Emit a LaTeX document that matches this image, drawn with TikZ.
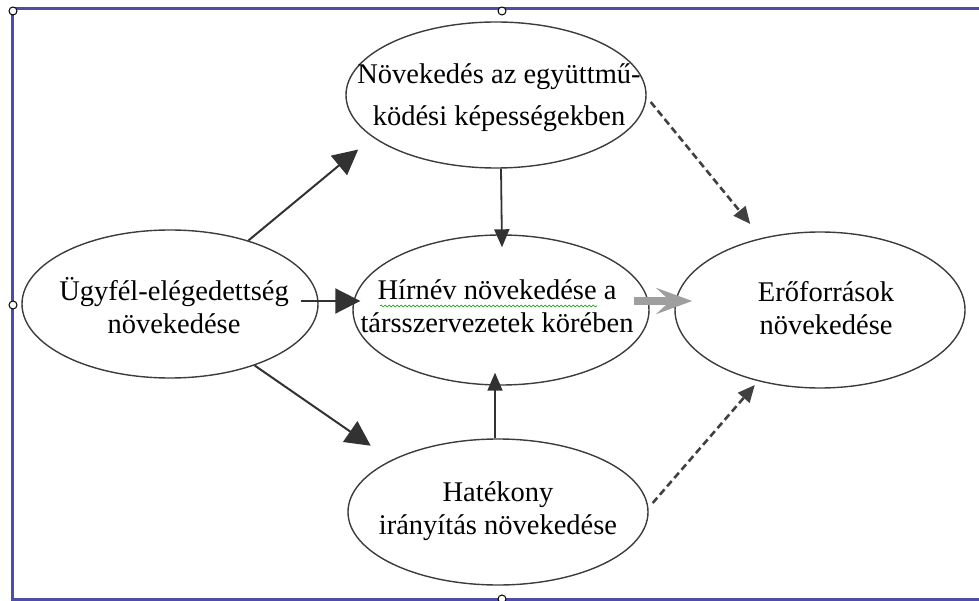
\documentclass[tikz,border=0pt]{standalone}
\usepackage{fontspec}
\setmainfont{Liberation Serif}
\usetikzlibrary{shapes.geometric,arrows.meta,decorations.pathmorphing}
\definecolor{framecol}{RGB}{78,78,168}
\definecolor{ringcol}{RGB}{60,60,60}
\definecolor{linkcol}{RGB}{50,50,50}

\begin{document}
\begin{tikzpicture}[x=1pt,y=-1pt,
  goal/.style={draw=ringcol,line width=1.4pt,ellipse,inner sep=0pt},
  txt/.style={align=center,inner sep=0pt,font=\fontsize{28.5}{33}\selectfont},
  big/.style={draw=linkcol,line width=2pt,-{Triangle[length=25pt,width=25pt]}},
  small/.style={draw=linkcol,line width=1.8pt,-{Triangle[length=18pt,width=15pt]}},
  hint/.style={draw=black!75,line width=2.6pt,dash pattern=on 7pt off 4pt,-{Triangle[length=17pt,width=15pt]}},
  handle/.style={draw=black,fill=white,circle,inner sep=0pt,minimum size=8pt,line width=1pt}]
\useasboundingbox (0,0) rectangle (979,601);
\draw[framecol,line width=3pt] (995,9) -- (12.5,9) -- (12.5,599.5) -- (995,599.5);

\node[goal,minimum width=296pt,minimum height=148pt] (L) at (170,304) {};
\node[goal,minimum width=300pt,minimum height=146pt] (T) at (496,95) {};
\node[goal,minimum width=296pt,minimum height=150pt] (M) at (501,310) {};
\node[goal,minimum width=300pt,minimum height=146pt] (B) at (498,512) {};
\node[goal,minimum width=290pt,minimum height=156pt] (R) at (820,310) {};

\node[txt] (Lt) at (174,306) {Ügyfél-elégedettség\\növekedése};
\node[txt,font=\fontsize{28.5}{42}\selectfont] (Tt) at (499,98) {Növekedés az együttmű-\\ködési képességekben};
\node[txt] (Mt) at (497,306) {Hírnév növekedése a\\társszervezetek körében};
\node[txt] (Bt) at (498,511) {Hatékony\\irányítás növekedése};
\node[txt] (Rt) at (826,308) {Erőforrások\\növekedése};

% spelling mark
\draw[green!60!black,line width=0.6pt,decorate,decoration={snake,amplitude=1pt,segment length=4pt}]
  (380,306) -- (597,306);

\draw[big,shorten >=19pt] (L.39) -- (T.199);
\draw[big,shorten >=25pt] (L.-36) -- (B.154);
\draw[big] ([shift={(-18,-3)}]L.east) -- ([shift={(8,-9)}]M.west);
\draw[small] ([xshift=5pt]T.south) -- ([shift={(1,13)}]M.north);
\draw[small] ([xshift=-3pt]B.north) -- ([shift={(-6,-13)}]M.south);
\draw[gray!75,line width=8.5pt,-{Stealth[length=36pt,width=26pt,inset=14pt]}]
  ([shift={(-16,-9)}]M.east) -- ([shift={(18,-9)}]R.west);

\draw[hint,shorten >=18pt] ([shift={(4,7)}]T.east) -- (R.129);
\draw[hint,shorten >=5pt] ([shift={(4,-9)}]B.east) -- (R.229);

\foreach \p[count=\k] in {(13,11),(502,11),(13,305),(502,599)}
  \node[handle] (h\k) at \p {};
\end{tikzpicture}
\end{document}
